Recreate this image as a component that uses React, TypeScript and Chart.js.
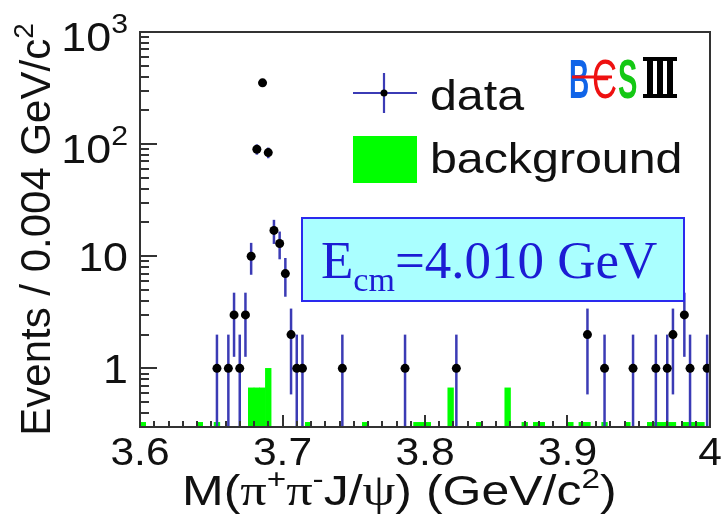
import React, { useEffect, useRef } from 'react';
import { Chart, registerables } from 'chart.js';

Chart.register(...registerables);

// ---------------- data ----------------
const X_MIN = 3.6;
const X_MAX = 4.0;
const Y_MIN = 0.3;
const Y_MAX = 1000;

// bin centres (GeV/c^2), bin width 0.004
const dataMass = [3.654, 3.662, 3.666, 3.670, 3.674, 3.678, 3.682, 3.686, 3.690, 3.694, 3.698, 3.702, 3.706, 3.710, 3.714, 3.742, 3.786, 3.822, 3.914, 3.926, 3.946, 3.962, 3.970, 3.974, 3.982, 3.986, 3.998];
const dataCounts = [1, 1, 3, 1, 3, 10, 90, 352, 84, 17, 13, 7, 2, 1, 1, 1, 1, 1, 2, 1, 1, 1, 1, 2, 3, 1, 1];

const bkgMass = [3.602, 3.642, 3.654, 3.678, 3.682, 3.686, 3.690, 3.718, 3.758, 3.794, 3.798, 3.802, 3.818, 3.838, 3.858, 3.870, 3.878, 3.882, 3.902, 3.910, 3.914, 3.926, 3.942, 3.958, 3.962, 3.966, 3.970, 3.974, 3.982, 3.986, 3.990, 3.994];
const bkgCounts = [0.33, 0.33, 0.33, 0.67, 0.67, 0.67, 1, 0.33, 0.33, 0.33, 0.33, 0.33, 0.67, 0.33, 0.67, 0.33, 0.33, 0.33, 0.33, 0.33, 0.33, 0.33, 0.33, 0.33, 0.33, 0.33, 0.33, 0.33, 0.33, 0.33, 0.33, 0.33];

const xTickValues = [3.6, 3.7, 3.8, 3.9, 4.0];
const xTickLabels = ['3.6', '3.7', '3.8', '3.9', '4'];
const yTickValues = [1, 10, 100, 1000];
const yTickBases = ['1', '10', '10', '10'];
const yTickExps = ['', '', '2', '3'];

const legendLabels = ['data', 'background'];
const energyLabel = { main: 'E', sub: 'cm', rest: '=4.010 GeV' };

// ---------------- styles ----------------
const SANS = "'Liberation Sans', Arial, sans-serif";
const SERIF = "'Liberation Serif', 'Times New Roman', serif";
const TEXT = '#111111';
const AXIS = '#333333';
const ERR = '#3b3bb5';
const GREEN = '#00ff00';

type Seg = { t: string; size: number; family?: string; dy?: number; weight?: string };

function setFont(ctx: CanvasRenderingContext2D, s: Seg) {
  ctx.font = `${s.weight || ''} ${s.size}px ${s.family || SANS}`.trim();
}

function drawSegs(
  ctx: CanvasRenderingContext2D,
  segs: Seg[],
  x: number,
  y: number,
  align: 'left' | 'center' | 'right',
  sx: number,
  color: string
) {
  let total = 0;
  for (const s of segs) {
    setFont(ctx, s);
    total += ctx.measureText(s.t).width;
  }
  total *= sx;
  const start = align === 'left' ? x : align === 'center' ? x - total / 2 : x - total;
  ctx.save();
  ctx.translate(start, y);
  ctx.scale(sx, 1);
  ctx.fillStyle = color;
  ctx.textAlign = 'left';
  ctx.textBaseline = 'alphabetic';
  let pen = 0;
  for (const s of segs) {
    setFont(ctx, s);
    ctx.fillText(s.t, pen, s.dy || 0);
    pen += ctx.measureText(s.t).width;
  }
  ctx.restore();
}

const decor = {
  id: 'decor',
  beforeDatasetDraw(chart: any, args: any) {
    if (args.index !== 0) return;
    const { ctx, chartArea: a } = chart;
    const xs = chart.scales.x;
    const ys = chart.scales.y;
    ctx.save();
    ctx.beginPath();
    ctx.rect(a.left, a.top, a.right - a.left, a.bottom - a.top);
    ctx.clip();
    ctx.strokeStyle = ERR;
    ctx.lineWidth = 2.5;
    for (let i = 0; i < dataMass.length; i++) {
      const n = dataCounts[i];
      const e = Math.sqrt(n);
      const lo = Math.max(n - e, Y_MIN * 0.5);
      const hi = n + e;
      const px = xs.getPixelForValue(dataMass[i]);
      ctx.beginPath();
      ctx.moveTo(px, ys.getPixelForValue(lo));
      ctx.lineTo(px, ys.getPixelForValue(hi));
      ctx.stroke();
    }
    ctx.restore();
  },
  afterDatasetsDraw(chart: any) {
    const { ctx, chartArea: a } = chart;
    const xs = chart.scales.x;
    const ys = chart.scales.y;

    // frame
    ctx.save();
    ctx.strokeStyle = AXIS;
    ctx.lineWidth = 2;
    ctx.strokeRect(a.left, a.top, a.right - a.left, a.bottom - a.top);

    // x ticks (inside)
    ctx.beginPath();
    for (let i = 1; i < 40; i++) {
      const v = X_MIN + (i * (X_MAX - X_MIN)) / 40;
      const px = Math.round(xs.getPixelForValue(v));
      const len = i % 10 === 0 ? 12 : 6;
      ctx.moveTo(px, a.bottom);
      ctx.lineTo(px, a.bottom - len);
    }
    // y ticks (inside)
    for (const dec of [0.1, 1, 10, 100]) {
      for (let m = 1; m <= 9; m++) {
        const v = m * dec;
        if (v < Y_MIN - 1e-9 || v > Y_MAX + 1e-9) continue;
        const py = Math.round(ys.getPixelForValue(v));
        const len = m === 1 ? 17 : 9;
        ctx.moveTo(a.left, py);
        ctx.lineTo(a.left + len, py);
      }
    }
    ctx.stroke();
    ctx.restore();

    // x tick labels
    xTickValues.forEach((v, i) => {
      const px = xs.getPixelForValue(v);
      drawSegs(ctx, [{ t: xTickLabels[i], size: 38 }], px, 465, 'center', 1.12, TEXT);
    });

    // y tick labels
    yTickValues.forEach((v, i) => {
      const py = ys.getPixelForValue(v);
      const segs: Seg[] = [{ t: yTickBases[i], size: 40 }];
      let shift = 0;
      if (yTickExps[i]) {
        segs.push({ t: yTickExps[i], size: 27, dy: -18 });
        shift = 4.5;
      }
      drawSegs(ctx, segs, 128, py + 14.3 + shift, 'right', 1.12, TEXT);
    });

    // y title
    ctx.save();
    ctx.translate(50, (a.top + a.bottom) / 2);
    ctx.rotate(-Math.PI / 2);
    drawSegs(
      ctx,
      [
        { t: 'Events / 0.004 GeV/c', size: 42 },
        { t: '2', size: 28, dy: -17 },
      ],
      0,
      0,
      'center',
      1.0,
      TEXT
    );
    ctx.restore();

    // x title
    drawSegs(
      ctx,
      [
        { t: 'M(', size: 42 },
        { t: 'π', size: 44, family: SERIF },
        { t: '+', size: 28, dy: -17 },
        { t: 'π', size: 44, family: SERIF },
        { t: '-', size: 28, dy: -17 },
        { t: 'J/', size: 42 },
        { t: 'ψ', size: 44, family: SERIF },
        { t: ') (GeV/c', size: 42 },
        { t: '2', size: 28, dy: -17 },
        { t: ')', size: 42 },
      ],
      182,
      505,
      'left',
      1.19,
      TEXT
    );

    // legend
    ctx.save();
    ctx.strokeStyle = ERR;
    ctx.lineWidth = 2.2;
    ctx.beginPath();
    ctx.moveTo(353, 93);
    ctx.lineTo(417, 93);
    ctx.moveTo(384, 73);
    ctx.lineTo(384, 113);
    ctx.stroke();
    ctx.fillStyle = '#000';
    ctx.beginPath();
    ctx.arc(384, 93, 3.5, 0, Math.PI * 2);
    ctx.fill();
    ctx.fillStyle = GREEN;
    ctx.fillRect(353, 136, 64, 47);
    ctx.restore();
    drawSegs(ctx, [{ t: legendLabels[0], size: 42 }], 430, 110, 'left', 1.15, TEXT);
    drawSegs(ctx, [{ t: legendLabels[1], size: 42 }], 430, 173, 'left', 1.15, TEXT);

    // energy box
    ctx.save();
    ctx.fillStyle = '#aaffff';
    ctx.fillRect(302, 218, 382, 83);
    ctx.strokeStyle = '#2a2aee';
    ctx.lineWidth = 2;
    ctx.strokeRect(302, 218, 382, 83);
    ctx.restore();
    drawSegs(
      ctx,
      [
        { t: energyLabel.main, size: 53, family: SERIF },
        { t: energyLabel.sub, size: 34, family: SERIF, dy: 13 },
        { t: energyLabel.rest, size: 53, family: SERIF },
      ],
      321,
      278,
      'left',
      1.0,
      '#1c1cd4'
    );

    // BESIII logo
    drawSegs(ctx, [{ t: 'B', size: 56, weight: 'bold' }], 569, 98, 'left', 0.5, '#1064e8');
    ctx.save();
    ctx.fillStyle = '#ee1111';
    ctx.fillRect(572, 75.5, 40, 3);
    ctx.restore();
    drawSegs(ctx, [{ t: 'Є', size: 56 }], 592, 98, 'left', 0.62, '#ee1111');
    drawSegs(ctx, [{ t: 'S', size: 56, weight: 'bold' }], 618, 98, 'left', 0.52, '#14c814');
    ctx.save();
    ctx.fillStyle = '#000';
    ctx.fillRect(643, 57, 34, 4);
    ctx.fillRect(643, 94, 34, 4);
    ctx.fillRect(647, 57, 6, 41);
    ctx.fillRect(657, 57, 6, 41);
    ctx.fillRect(667, 57, 6, 41);
    ctx.restore();
  },
};

export default function App() {
  const ref = useRef<HTMLCanvasElement | null>(null);
  useEffect(() => {
    if (!ref.current) return;
    const chart = new Chart(ref.current, {
      type: 'scatter',
      data: {
        datasets: [
          {
            type: 'scatter',
            label: legendLabels[0],
            data: dataMass.map((m, i) => ({ x: m, y: dataCounts[i] })),
            pointRadius: 4.5,
            pointBackgroundColor: '#000000',
            pointBorderWidth: 0,
            order: 0,
          } as any,
          {
            type: 'bar',
            label: legendLabels[1],
            data: bkgMass.map((m, i) => ({ x: m, y: bkgCounts[i] })),
            backgroundColor: GREEN,
            borderWidth: 0,
            barPercentage: 1,
            categoryPercentage: 1,
            order: 1,
          } as any,
        ],
      },
      options: {
        responsive: false,
        animation: false,
        devicePixelRatio: 1,
        events: [],
        layout: { padding: { left: 140, top: 32, right: 12, bottom: 103 } },
        scales: {
          x: { type: 'linear', min: X_MIN, max: X_MAX, offset: false, display: false },
          y: { type: 'logarithmic', min: Y_MIN, max: Y_MAX, display: false },
        },
        plugins: { legend: { display: false }, tooltip: { enabled: false } },
      } as any,
      plugins: [decor],
    });
    return () => chart.destroy();
  }, []);
  return (
    <div style={{ position: 'fixed', left: 0, top: 0, width: 722, height: 530, background: '#fff' }}>
      <canvas ref={ref} width={722} height={530} style={{ display: 'block', width: 722, height: 530 }} />
    </div>
  );
}
